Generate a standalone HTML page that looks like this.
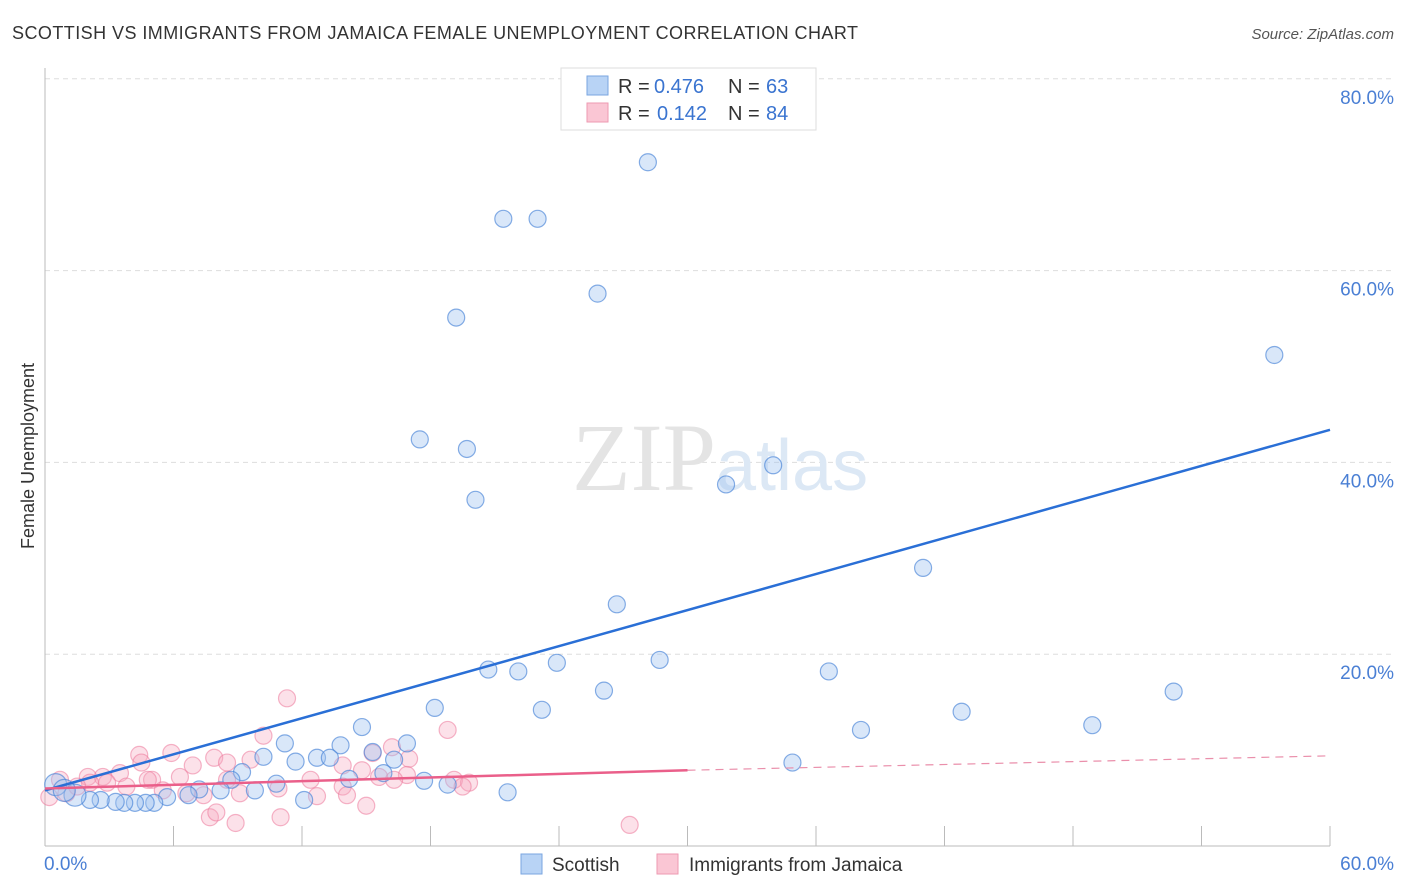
<!DOCTYPE html>
<html><head><meta charset="utf-8"><style>
body{margin:0;background:#fff;font-family:"Liberation Sans",sans-serif}
svg{display:block}
</style></head><body>
<svg width="1406" height="892" xmlns="http://www.w3.org/2000/svg">
<text x="12" y="39" font-size="18" fill="#333" textLength="846" lengthAdjust="spacing">SCOTTISH VS IMMIGRANTS FROM JAMAICA FEMALE UNEMPLOYMENT CORRELATION CHART</text>
<text x="1394" y="39" font-size="15" fill="#555" font-style="italic" text-anchor="end">Source: ZipAtlas.com</text>
<g id="grid"></g>
<text x="716" y="490" font-size="96" fill="#e4e4e4" text-anchor="end" font-family="Liberation Serif">ZIP</text>
<text x="716" y="490" font-size="72" fill="#dce8f5">atlas</text>
<g id="pts"></g>
<g id="lines"></g>
<text transform="translate(34,456) rotate(-90)" font-size="18" fill="#333" text-anchor="middle">Female Unemployment</text>
<g>
<rect x="561" y="68" width="255" height="62" fill="#fff" stroke="#ddd"/>
<rect x="587" y="76" width="21" height="19" fill="#b8d3f5" stroke="#7aa6e0"/>
<rect x="587" y="103" width="21" height="19" fill="#fac6d4" stroke="#ee9ab2"/>
<text x="618" y="93" font-size="20" fill="#333">R =</text>
<text x="654" y="93" font-size="20" fill="#3a74d0">0.476</text>
<text x="728" y="93" font-size="20" fill="#333">N =</text>
<text x="766" y="93" font-size="20" fill="#3a74d0">63</text>
<text x="618" y="120" font-size="20" fill="#333">R =</text>
<text x="657" y="120" font-size="20" fill="#3a74d0">0.142</text>
<text x="728" y="120" font-size="20" fill="#333">N =</text>
<text x="766" y="120" font-size="20" fill="#3a74d0">84</text>
</g>
<g>
<rect x="521" y="854" width="21" height="20" fill="#b8d3f5" stroke="#7aa6e0"/>
<text x="552" y="871" font-size="19" fill="#333">Scottish</text>
<rect x="657" y="854" width="21" height="20" fill="#fac6d4" stroke="#ee9ab2"/>
<text x="689" y="871" font-size="19" fill="#333">Immigrants from Jamaica</text>
</g>
<text x="44" y="870" font-size="19" fill="#4a7fd4">0.0%</text>
<text x="1394" y="870" font-size="19" fill="#4a7fd4" text-anchor="end">60.0%</text>
</svg>
<script>
const yTicks=[20,40,60,80];
const xTicks=[0,6,12,18,24,30,36,42,48,54,60];
const blueX=[28.15,21.4,23.0,25.8,19.2,57.4,17.5,19.7,20.1,31.8,34.0,41.0,26.7,28.7,23.9,20.7,22.1,36.6,26.1,52.7,18.2,23.2,42.8,48.9,38.1,14.8,11.2,16.9,13.8,10.2,12.7,13.3,11.7,16.3,15.3,34.9,9.2,15.8,14.2,8.7,17.7,18.8,10.8,9.8,8.2,21.6,12.1,7.2,6.7,5.7,5.1,4.7,4.2,3.7,3.3,2.6,2.1,1.4,0.5,0.9];
const blueY=[71.3,65.4,65.4,57.6,55.1,51.2,42.4,41.4,36.1,37.7,39.7,29.0,25.2,19.4,19.1,18.4,18.2,18.2,16.2,16.1,14.4,14.2,14.0,12.6,12.1,12.4,10.7,10.7,10.5,9.3,9.2,9.2,8.8,9.0,9.8,8.7,7.7,7.6,7.0,6.9,6.8,6.4,6.5,5.8,5.8,5.6,4.8,5.9,5.3,5.1,4.5,4.5,4.5,4.5,4.6,4.8,4.8,5.3,6.4,5.8];
const pinkX=[11.3,18.8,10.2,16.2,4.4,5.9,7.9,17.0,4.5,6.9,9.6,13.9,15.3,3.5,2.7,2.0,5.0,6.3,8.5,14.8,16.9,12.4,15.6,19.1,19.8,19.5,13.9,14.1,12.7,10.9,9.1,7.4,3.8,0.7,0.2,1.0,15.0,7.7,8.0,8.9,11.0,27.3,6.6,5.5,2.1,1.5,2.9,4.8,8.5,16.3];
const pinkY=[15.4,12.1,11.5,10.3,9.5,9.7,9.2,9.1,8.7,8.4,9.0,8.4,9.7,7.6,7.2,7.2,6.9,7.2,6.9,7.9,7.4,6.9,7.2,6.9,6.6,6.2,6.2,5.3,5.2,6.0,5.5,5.3,6.2,6.9,5.1,5.5,4.2,3.0,3.5,2.4,3.0,2.2,5.5,5.8,6.6,6.2,6.6,6.9,8.7,6.9];
const blueTrend=[5.8,43.4];
const pinkTrend=[6.0,7.9,9.4];
const X=v=>45+v/60*1285, Y=v=>846-v*9.59;
const NS="http://www.w3.org/2000/svg";
function mk(t,a,p){const e=document.createElementNS(NS,t);for(const k in a)e.setAttribute(k,a[k]);p.appendChild(e);return e;}
const g=document.getElementById('grid');
yTicks.forEach(v=>{
 const l=mk('line',{x1:45,x2:1394,y1:Y(v),y2:Y(v),stroke:'#ddd','stroke-dasharray':'5,4'},g);
 
 
 const t=mk('text',{x:1394,y:Y(v)+25,'font-size':19,fill:'#4a7fd4','text-anchor':'end'},g);t.textContent=v.toFixed(1)+'%';
 
 
});
const ax=mk('line',{x1:45,x2:45,y1:68,y2:846,stroke:'#bbb'},g);


const bx=mk('line',{x1:45,x2:1330,y1:846,y2:846,stroke:'#bbb'},g);


xTicks.forEach(v=>{const l=mk('line',{x1:X(v),x2:X(v),y1:826,y2:846,stroke:'#bbb'},g);
 
 });
const p=document.getElementById('pts');
pinkX.forEach((v,i)=>{const c=mk('circle',{cx:X(v),cy:Y(pinkY[i]),r:8.5,fill:'rgba(246,170,192,0.35)',stroke:'rgba(236,120,155,0.55)','stroke-width':1.2},p);
 
 });
blueX.forEach((v,i)=>{const c=mk('circle',{cx:X(v),cy:Y(blueY[i]),r:(v<2?11:8.5),fill:'rgba(160,196,240,0.4)',stroke:'rgba(70,130,215,0.65)','stroke-width':1.2},p);
 
 });
const L=document.getElementById('lines');
const b=mk('line',{x1:X(0),y1:Y(blueTrend[0]),x2:X(60),y2:Y(blueTrend[1]),stroke:'#2a6fd6','stroke-width':2.5},L);


const pk=mk('line',{x1:X(0),y1:Y(pinkTrend[0]),x2:X(30),y2:Y(pinkTrend[1]),stroke:'#ea5f8a','stroke-width':2.5},L);


const pd=mk('line',{x1:X(30),y1:Y(pinkTrend[1]),x2:X(60),y2:Y(pinkTrend[2]),stroke:'#ea8fab','stroke-width':1.2,'stroke-dasharray':'8,6'},L);


</script>
</body></html>
